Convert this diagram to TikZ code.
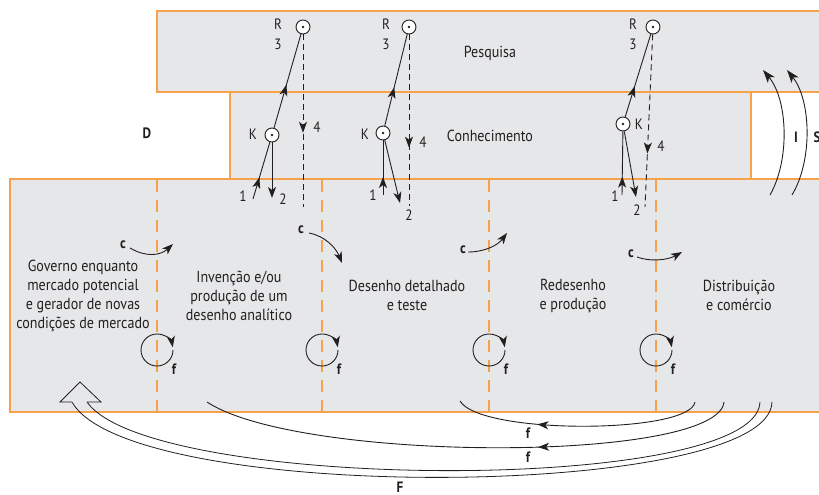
\documentclass[tikz,border=0pt]{standalone}
\usepackage{fontspec}
\setmainfont[FakeStretch=0.88]{PT Sans}
\usetikzlibrary{arrows.meta,decorations.markings}
\definecolor{boxorange}{HTML}{F5A24A}
\definecolor{boxgray}{HTML}{E6E7E8}
\definecolor{ink}{HTML}{231F20}
\tikzset{
  lbl/.style={font=\fontsize{15}{17}\selectfont, text=ink, inner sep=0pt},
  blbl/.style={font=\fontsize{15}{17}\selectfont\bfseries, text=ink, inner sep=0pt},
  stage/.style={font=\fontsize{16}{19}\selectfont, text=ink, align=center, inner sep=0pt},
  dotc/.style={circle, draw=ink, fill=white, line width=0.9pt, minimum size=14pt, inner sep=0pt,
    path picture={\fill[ink] (path picture bounding box.center) circle (1.3pt);}},
  conn/.style={draw=ink, line width=0.9pt},
  tip/.style={-{Stealth[length=11pt,width=8pt,inset=3pt]}},
  bigtip/.style={-{Stealth[length=13pt,width=9pt,inset=3.5pt]}},
  midarr/.style={postaction={decorate}, decoration={markings,
    mark=at position #1 with {\arrow{Stealth[length=11pt,width=8pt,inset=3pt]}}}},
  dashfour/.style={dash pattern=on 6pt off 4pt},
  sep/.style={draw=boxorange, line width=1.4pt, dash pattern=on 12pt off 8pt},
  band/.style={draw=boxorange, fill=boxgray, line width=1.6pt},
}
\begin{document}
\begin{tikzpicture}[x=1pt,y=-1pt]
\useasboundingbox (0,0) rectangle (819,495);
% bands
\path[band] (157,11) rectangle (840,92);
\path[band] (230,92) rectangle (751,179);
\path[band] (10,179) rectangle (840,412);
\foreach \x in {157,322,489,656} \draw[sep] (\x,180) -- (\x,411);

% band titles and side labels
\node[stage] (tpesq) at (490,53) {Pesquisa};
\node[stage] (tconh) at (490,136) {Conhecimento};
\node[blbl] (tD) at (147,133) {D};
\node[blbl] (tI) at (796,137) {I};
\node[blbl] (tS) at (817,137) {S};
\node[blbl] (tF) at (400,487) {F};

% stage texts
\node[stage] (s1) at (83,295.5) {Governo enquanto\\mercado potencial\\e gerador de novas\\condições de mercado};
\node[stage] (s2) at (239,295.5) {Invenção e/ou\\produção de um\\desenho analítico};
\node[stage] (s3) at (407,295.5) {Desenho detalhado\\e teste};
\node[stage] (s4) at (573,295.5) {Redesenho\\e produção};
\node[stage] (s5) at (739,295.5) {Distribuição\\e comércio};

% column 1
\node[dotc] (R1) at (303,27) {};
\node[dotc] (K1) at (272,135) {};
\node[lbl] (lR1) at (278,24) {R};
\node[lbl] (l31) at (278,44) {3};
\node[lbl] (lK1) at (253,134) {K};
\node[lbl] (l11) at (243,196) {1};
\node[lbl] (l21) at (283,199) {2};
\node[lbl] (l41) at (317,127) {4};
\coordinate (a1) at (253,199);
\coordinate (b1) at (272,198);
\coordinate (d1) at (303,207);
\draw[conn, midarr=0.38] (a1) -- (K1);
\draw[conn, tip] (K1) -- (b1);
\draw[conn, midarr=0.46] (K1) -- (R1);
\draw[conn, dashfour, midarr=0.57] (R1) -- (d1);

% column 2
\node[dotc] (R2) at (409,27) {};
\node[dotc] (K2) at (383,133) {};
\node[lbl] (lR2) at (386,24) {R};
\node[lbl] (l32) at (386,44) {3};
\node[lbl] (lK2) at (365,134) {K};
\node[lbl] (l12) at (373,195) {1};
\node[lbl] (l22) at (409,215) {2};
\node[lbl] (l42) at (423,142) {4};
\coordinate (a2) at (383,195);
\coordinate (b2) at (400,203);
\coordinate (d2) at (409,206);
\draw[conn, midarr=0.33] (a2) -- (K2);
\draw[conn, tip] (K2) -- (b2);
\draw[conn, midarr=0.42] (K2) -- (R2);
\draw[conn, dashfour, midarr=0.66] (R2) -- (d2);

% column 3
\node[dotc] (R3) at (653,27) {};
\node[dotc] (K3) at (623,124) {};
\node[lbl] (lR3) at (633,24) {R};
\node[lbl] (l33) at (633,44) {3};
\node[lbl] (lK3) at (639,124) {K};
\node[lbl] (l13) at (615,196) {1};
\node[lbl] (l23) at (637,210) {2};
\node[lbl] (l43) at (661,146) {4};
\coordinate (a3) at (622,195);
\coordinate (b3) at (636,197);
\coordinate (d3) at (645,207);
\draw[conn, midarr=0.29] (a3) -- (K3);
\draw[conn, tip] (K3) -- (b3);
\draw[conn, midarr=0.37] (K3) -- (R3);
\draw[conn, dashfour, midarr=0.69] (R3) -- (d3);

% c arrows
\node[blbl] (c1) at (123,245) {c};
\node[blbl] (c2) at (301,230) {c};
\node[blbl] (c3) at (463,250) {c};
\node[blbl] (c4) at (631,254) {c};
\coordinate (ce1) at (173,244);
\coordinate (ce2) at (342,263);
\coordinate (ce3) at (507,233);
\coordinate (ce4) at (682,252);
\draw[conn, tip] (c1.east) ++(4,3) .. controls (145,257) and (160,256) .. (ce1);
\draw[conn, tip] (c2.east) ++(5,3) .. controls (325,236) and (336,248) .. (ce2);
\draw[conn, tip] (c3.east) ++(2,2) .. controls (485,252) and (498,245) .. (ce3);
\draw[conn, tip] (c4.east) ++(3,3) .. controls (650,262) and (668,260) .. (ce4);

% f loops
\foreach \x [count=\i] in {157,322,489,656} {
  \draw[conn, tip] (\x,350) ++(16,0) arc[start angle=0, end angle=350, radius=16];
  \node[blbl] (f\i) at (\x+17,369) {f};
}

% I and S arrows
\coordinate (iS) at (770,195); \coordinate (iE) at (763,70);
\coordinate (sS) at (792,195); \coordinate (sE) at (787,70);
\draw[conn, bigtip] (iS) .. controls (790,160) and (788,100) .. (iE);
\draw[conn, bigtip] (sS) .. controls (813,160) and (811,100) .. (sE);

% feedback arrows at the bottom
\coordinate (fa0) at (695,402); \coordinate (fa1) at (460,401);
\coordinate (fb0) at (724,402); \coordinate (fb1) at (207,402);
\draw[conn, midarr=0.665] (fa0) .. controls (690,434) and (480,435) .. (fa1);
\draw[conn, midarr=0.37] (fb0) .. controls (718,463) and (300,463) .. (fb1);
\node[blbl] (fl1) at (528,433) {f};
\node[blbl] (fl2) at (528,457) {f};

% big hollow arrow F
\coordinate (Fo0) at (772,402); \coordinate (Fo1) at (72,402);
\coordinate (Fi0) at (760,402); \coordinate (Fi1) at (87,402);
\draw[conn, line width=0.8pt] (Fo0) .. controls (770,500) and (130,505) .. (Fo1);
\draw[conn, line width=0.8pt] (Fi0) .. controls (757,495) and (150,492) .. (Fi1);
\draw[conn, line width=0.8pt, fill=boxgray, line join=miter] (Fo1) -- (60,402) -- (80,382) -- (101,402) -- (Fi1);
\end{tikzpicture}
\end{document}
